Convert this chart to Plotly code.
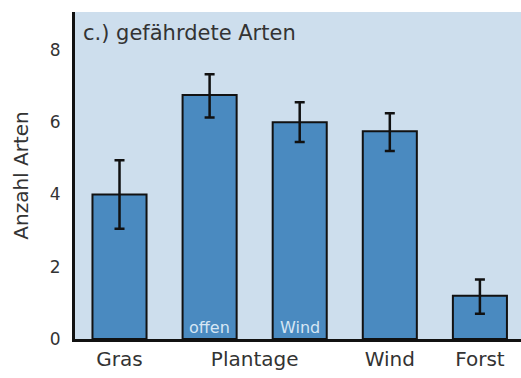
import plotly.graph_objects as go

# Threatened species per habitat type (mean with error range)
habitats = ["Gras", "Plantage offen", "Plantage Wind", "Wind", "Forst"]
mean_species = [4.0, 6.75, 6.0, 5.75, 1.2]
err_plus = [0.95, 0.58, 0.55, 0.5, 0.45]
err_minus = [0.95, 0.62, 0.55, 0.55, 0.5]

# Group labels along the x axis
group_positions = [0, 1.5, 3, 4]
group_labels = ["Gras", "Plantage", "Wind", "Forst"]

# Sub-labels written inside the two Plantage bars
inner_labels = ["", "offen", "Wind", "", ""]

y_ticks = [0, 2, 4, 6, 8]

FONT = "DejaVu Sans"
TEXT = "#333333"
positions = list(range(len(habitats)))

fig = go.Figure()
fig.add_trace(go.Bar(
    x=positions,
    y=mean_species,
    width=0.6,
    marker=dict(color="#4a8ac0", line=dict(color="#111111", width=2)),
    error_y=dict(type="data", symmetric=False, array=err_plus, arrayminus=err_minus,
                 color="#111111", thickness=2.5, width=5),
    hovertext=habitats,
    showlegend=False,
))

for pos, lab in zip(positions, inner_labels):
    if lab:
        fig.add_annotation(x=pos, y=0, text=lab, showarrow=False, yanchor="bottom",
                           yshift=0, font=dict(family=FONT, size=16, color="#d6e6f4"))

fig.add_annotation(xref="paper", yref="paper", x=0.014, y=0.98, xanchor="left",
                   yanchor="top", text="c.) gefährdete Arten", showarrow=False,
                   font=dict(family=FONT, size=21, color=TEXT))

fig.update_layout(
    width=521, height=378,
    margin=dict(l=75, r=0, t=12, b=39),
    paper_bgcolor="white",
    plot_bgcolor="#cddeed",
    font=dict(family=FONT, color=TEXT),
    xaxis=dict(range=[-0.494, 4.456], tickvals=group_positions, ticktext=group_labels,
               tickfont=dict(size=20, color=TEXT), showgrid=False, zeroline=False,
               showline=True, linecolor="#111111", linewidth=2.5, ticks="", ticklen=0),
    yaxis=dict(range=[0, 9.05], tickvals=y_ticks, tickfont=dict(size=17, color=TEXT),
               showgrid=False, zeroline=False, showline=True, linecolor="#111111",
               linewidth=3, ticks="", ticklabelstandoff=8,
               title=dict(text="Anzahl Arten", font=dict(size=20, color=TEXT), standoff=16)),
    bargap=0.4,
)

fig.write_html("out.html")
